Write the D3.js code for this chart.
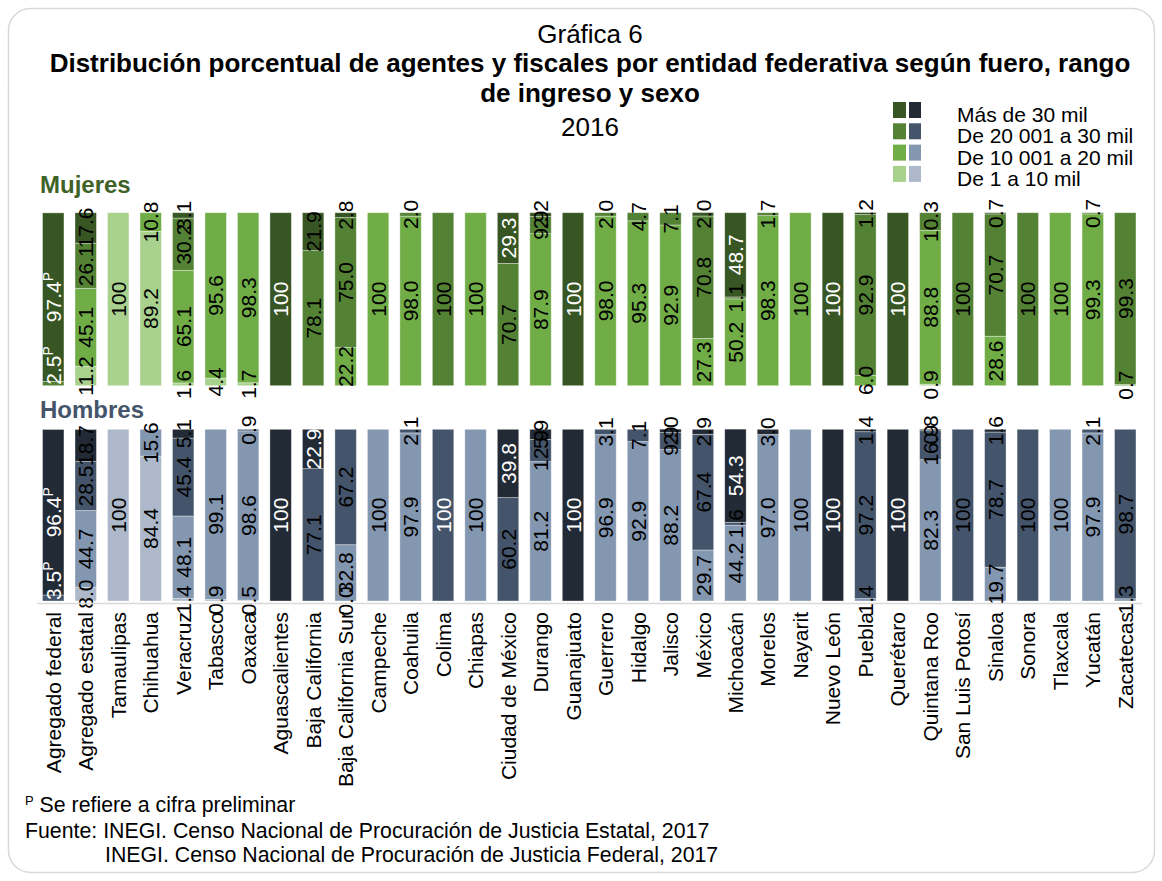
<!DOCTYPE html>
<html>
<head>
<meta charset="utf-8">
<script src="https://cdn.jsdelivr.net/npm/d3@7"></script>
<style>
  body { margin: 0; background: #fff; }
  text { font-family: "Liberation Sans", Arial, sans-serif; }
</style>
</head>
<body>
<svg id="chart" width="1162" height="881"></svg>
<script>
// categorias (entidades) en el orden de la grafica
var categories = ["Agregado federal", "Agregado estatal", "Tamaulipas", "Chihuahua", "Veracruz", "Tabasco", "Oaxaca",
    "Aguascalientes", "Baja California", "Baja California Sur", "Campeche", "Coahuila", "Colima", "Chiapas",
    "Ciudad de México", "Durango", "Guanajuato", "Guerrero", "Hidalgo", "Jalisco", "México", "Michoacán",
    "Morelos", "Nayarit", "Nuevo León", "Puebla", "Querétaro", "Quintana Roo", "San Luis Potosí", "Sinaloa",
    "Sonora", "Tlaxcala", "Yucatán", "Zacatecas"];

// rangos de ingreso, de abajo hacia arriba en cada barra
var rangos = ["De 1 a 10 mil", "De 10 001 a 20 mil", "De 20 001 a 30 mil", "Más de 30 mil"];

// Mujeres (%), null = sin dato
var mujeres1 = [null, 11.2, 100, 89.2, 1.6, 4.4, 1.7, null, null, null, null, null, null, null, null, null, null,
    null, null, null, null, null, null, null, null, null, null, 0.9, null, null, null, null, null, null];
var mujeres2 = [null, 45.1, null, 10.8, 65.1, 95.6, 98.3, null, null, 22.2, 100, 98.0, null, 100, null, 87.9, null,
    98.0, 95.3, 92.9, 27.3, 50.2, 98.3, 100, null, 6.0, null, 88.8, null, 28.6, null, 100, 99.3, 0.7];
var mujeres3 = [2.5, 26.1, null, null, 30.2, null, null, null, 78.1, 75.0, null, 2.0, 100, null, 70.7, 9.9, null,
    2.0, 4.7, 7.1, 70.8, 1.1, 1.7, null, null, 92.9, null, 10.3, 100, 70.7, 100, null, 0.7, 99.3];
var mujeres4 = [97.4, 17.6, null, null, 3.1, null, null, 100, 21.9, 2.8, null, null, null, null, 29.3, 2.2, 100,
    null, null, null, 2.0, 48.7, null, null, 100, 1.2, 100, null, null, 0.7, null, null, null, null];

// Hombres (%)
var hombres1 = [null, 8.0, 100, 84.4, 1.4, 0.9, 0.5, null, null, 0.0, null, null, null, null, null, null, null,
    null, null, null, null, null, null, null, null, null, null, null, null, null, null, null, null, null];
var hombres2 = [null, 44.7, null, 15.6, 48.1, 99.1, 98.6, null, null, 32.8, 100, 97.9, null, 100, null, 81.2, null,
    96.9, 92.9, 88.2, 29.7, 44.2, 97.0, 100, null, 1.4, null, 82.3, null, 19.7, null, 100, 97.9, 1.3];
var hombres3 = [3.5, 28.5, null, null, 45.4, null, 0.9, null, 77.1, 67.2, null, 2.1, 100, null, 60.2, 12.9, null,
    3.1, 7.1, 9.9, 67.4, 1.6, null, null, null, 97.2, null, 16.9, 100, 78.7, 100, null, 2.1, 98.7];
var hombres4 = [96.4, 18.7, null, null, 5.1, null, null, 100, 22.9, null, null, null, null, null, 39.8, 5.9, 100,
    null, null, 2.0, 2.9, 54.3, 3.0, null, 100, 1.4, 100, 0.8, null, 1.6, null, null, null, null];

var verdes = ["#a9d18e", "#70ad47", "#548235", "#375623"];
var azules = ["#adb9ca", "#8497b0", "#44546a", "#222a35"];

var svg = d3.select("#chart");

// marco redondeado
svg.append("rect")
    .attr("x", 8.5).attr("y", 8.5)
    .attr("width", 1146).attr("height", 864)
    .attr("rx", 22)
    .attr("fill", "#fff")
    .attr("stroke", "#d9d9d9")
    .attr("stroke-width", 1.5);

// titulos
var titles = [
    { t: "Gráfica 6", y: 43, bold: false },
    { t: "Distribución porcentual de agentes y fiscales por entidad federativa según fuero, rango", y: 72, bold: true },
    { t: "de ingreso y sexo", y: 102, bold: true },
    { t: "2016", y: 136, bold: false }
];
svg.selectAll("text.title")
    .data(titles)
    .enter().append("text")
    .attr("class", "title")
    .attr("x", 590)
    .attr("y", function (d) { return d.y; })
    .attr("text-anchor", "middle")
    .attr("font-size", "26px")
    .attr("font-weight", function (d) { return d.bold ? "bold" : "normal"; })
    .attr("fill", "#000")
    .text(function (d) { return d.t; });

// x scale
var x = d3.scaleBand()
    .domain(categories)
    .range([37, 1141.5])
    .paddingInner(0.34)
    .paddingOuter(0.17);

var panels = [
    { name: "Mujeres", series: [mujeres1, mujeres2, mujeres3, mujeres4], colors: verdes, titleColor: "#3f6327",
      labelY: 193, y: d3.scaleLinear().domain([0, 100]).range([385.7, 212.7]), whiteMin: 25 },
    { name: "Hombres", series: [hombres1, hombres2, hombres3, hombres4], colors: azules, titleColor: "#44546a",
      labelY: 418, y: d3.scaleLinear().domain([0, 100]).range([601, 429.3]), whiteMin: 20 }
];

function fmt(v) { return v === 100 ? "100" : v.toFixed(1); }

panels.forEach(function (p) {
    // apilar los rangos
    var segs = [];
    categories.forEach(function (c, i) {
        var acc = 0;
        p.series.forEach(function (s, k) {
            var v = s[i];
            if (v === null) return;
            segs.push({ cat: c, k: k, v: v, v0: acc, v1: acc + v });
            acc += v;
        });
    });

    var g = svg.append("g");

    g.append("text")
        .attr("x", 40)
        .attr("y", p.labelY)
        .attr("font-size", "24px")
        .attr("font-weight", "bold")
        .attr("fill", p.titleColor)
        .text(p.name);

    g.selectAll("rect")
        .data(segs.filter(function (d) { return d.v > 0; }))
        .enter().append("rect")
        .attr("x", function (d) { return x(d.cat); })
        .attr("y", function (d) { return p.y(d.v1); })
        .attr("width", x.bandwidth())
        .attr("height", function (d) { return p.y(d.v0) - p.y(d.v1); })
        .attr("fill", function (d) { return p.colors[d.k]; })
        .attr("stroke", "#fff")
        .attr("stroke-opacity", 0.45)
        .attr("stroke-width", 0.8);

    // la cifra pequena del agregado federal va en la base de la barra
    function baseLabel(d) { return d.cat === "Agregado federal" && d.v < 5; }

    var lab = g.selectAll("text.val")
        .data(segs)
        .enter().append("text")
        .attr("class", "val")
        .attr("transform", function (d) {
            var yy = baseLabel(d) ? p.y(d.v0) - 1 : p.y((d.v0 + d.v1) / 2);
            return "translate(" + (x(d.cat) + x.bandwidth() / 2) + "," + yy + ") rotate(-90)";
        })
        .attr("text-anchor", function (d) { return baseLabel(d) ? "start" : "middle"; })
        .attr("dy", "0.36em")
        .attr("font-size", "21px")
        .attr("fill", function (d) {
            var white = (d.k === 3 && d.v >= p.whiteMin) || d.cat === "Agregado federal" ||
                (p.name === "Hombres" && d.cat === "Colima");
            return white ? "#fff" : "#000";
        })
        .text(function (d) { return fmt(d.v); });

    // cifra preliminar
    lab.filter(function (d) { return d.cat === "Agregado federal"; })
        .append("tspan")
        .attr("baseline-shift", "super")
        .attr("font-size", "14px")
        .text("P");
});

// eje x
var axis = svg.append("g")
    .attr("transform", "translate(0,603)")
    .call(d3.axisBottom(x).tickSize(0));
axis.select(".domain").attr("stroke", "#d9d9d9").attr("stroke-width", 1.5);
axis.selectAll("text")
    .attr("transform", "rotate(-90)")
    .attr("text-anchor", "end")
    .attr("x", -9)
    .attr("y", 0)
    .attr("dy", "0.36em")
    .attr("font-size", "21px")
    .attr("font-family", "Liberation Sans, Arial, sans-serif")
    .attr("fill", "#000");

// leyenda
var legend = svg.append("g")
    .selectAll("g")
    .data(rangos.slice().reverse())
    .enter().append("g")
    .attr("transform", function (d, i) { return "translate(0," + (102 + i * 21.3) + ")"; });

legend.append("rect")
    .attr("x", 893).attr("width", 13).attr("height", 16)
    .attr("fill", function (d) { return verdes[rangos.indexOf(d)]; });
legend.append("rect")
    .attr("x", 909).attr("width", 12).attr("height", 16)
    .attr("fill", function (d) { return azules[rangos.indexOf(d)]; });
legend.append("text")
    .attr("x", 957)
    .attr("y", 20)
    .attr("font-size", "21px")
    .attr("fill", "#000")
    .text(function (d) { return d; });

// notas
var notas = svg.append("g").attr("font-size", "21.3px").attr("fill", "#000");
var n1 = notas.append("text").attr("x", 25).attr("y", 812);
n1.append("tspan").attr("font-size", "13px").attr("baseline-shift", "super").text("P");
n1.append("tspan").text(" Se refiere a cifra preliminar");
notas.append("text").attr("x", 25).attr("y", 838)
    .text("Fuente: INEGI. Censo Nacional de Procuración de Justicia Estatal, 2017");
notas.append("text").attr("x", 105).attr("y", 862)
    .text("INEGI. Censo Nacional de Procuración de Justicia Federal, 2017");
</script>
</body>
</html>
